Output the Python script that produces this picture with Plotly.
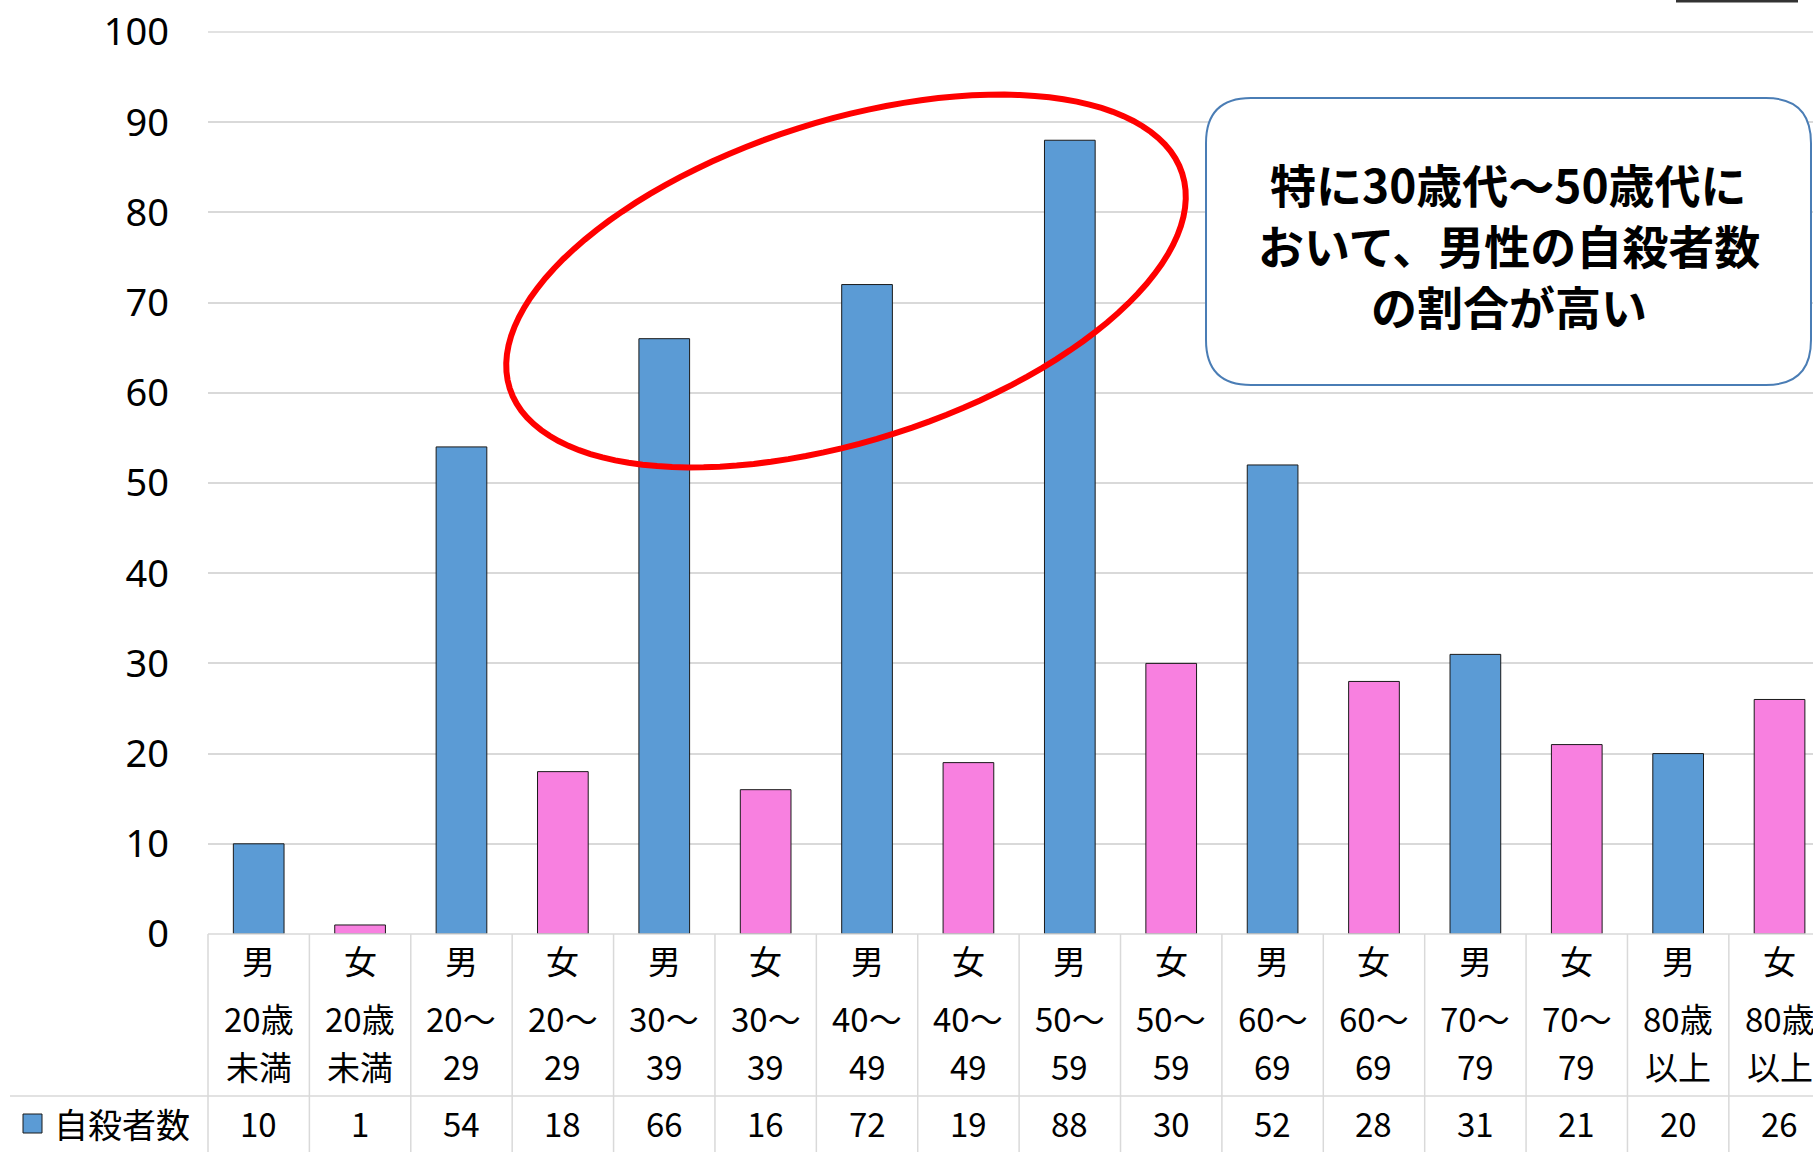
import numpy as np
import plotly.graph_objects as go

# ---- data ----
sexes = ["男", "女", "男", "女", "男", "女", "男", "女", "男", "女", "男", "女", "男", "女", "男", "女"]
age_line1 = ["20歳", "20歳", "20～", "20～", "30～", "30～", "40～", "40～", "50～", "50～",
             "60～", "60～", "70～", "70～", "80歳", "80歳"]
age_line2 = ["未満", "未満", "29", "29", "39", "39", "49", "49", "59", "59",
             "69", "69", "79", "79", "以上", "以上"]
counts = [10, 1, 54, 18, 66, 16, 72, 19, 88, 30, 52, 28, 31, 21, 20, 26]
series_name = "自殺者数"
y_ticks = [0, 10, 20, 30, 40, 50, 60, 70, 80, 90, 100]
note_lines = ["特に30歳代～50歳代に", "おいて、男性の自殺者数", "の割合が高い"]

# ---- layout constants (pixels) ----
W, H = 1813, 1152
L, R, T, B = 208, 0, 32, 218
PW, PH = W - L - R, H - T - B
X0, X1 = -0.5, 15.33

BLUE = "#5B9BD5"
PINK = "#F880E0"
GRID = "#D9D9D9"
FONT = "Noto Sans CJK JP"

def px(xp):
    return (xp - L) / PW

def py(yp):
    return (H - B - yp) / PH

def cat_px(i):
    return L + (i - X0) / (X1 - X0) * PW

colors = [BLUE if s == "男" else PINK for s in sexes]

fig = go.Figure(go.Bar(
    x=list(range(len(counts))), y=counts, name=series_name,
    marker=dict(color=colors, line=dict(color="#1a1a1a", width=1)),
    hoverinfo="y",
))

shapes = []
annotations = []

# top gridline (edge of range)
shapes.append(dict(type="line", xref="paper", yref="paper", x0=0, x1=1, y0=1, y1=1,
                   line=dict(color=GRID, width=1.5), layer="below"))

# table lines
line_style = dict(color=GRID, width=1.5)
shapes.append(dict(type="line", xref="paper", yref="paper", x0=0, x1=1,
                   y0=0, y1=0, line=line_style))
shapes.append(dict(type="line", xref="paper", yref="paper", x0=px(10), x1=1,
                   y0=py(1096), y1=py(1096), line=line_style))
for k in range(len(counts) + 1):
    xb = cat_px(k - 0.5)
    if xb > W:
        continue
    shapes.append(dict(type="line", xref="paper", yref="paper", x0=px(xb), x1=px(xb),
                       y0=0, y1=py(H), line=line_style))

# category text and values
for i in range(len(counts)):
    for txt, yy in ((sexes[i], 960), (age_line1[i], 1018), (age_line2[i], 1066)):
        annotations.append(dict(x=i, y=py(yy), xref="x", yref="paper", text=txt,
                                showarrow=False, font=dict(family=FONT, size=33, color="#000"),
                                xanchor="center", yanchor="middle"))
    annotations.append(dict(x=i, y=py(1123), xref="x", yref="paper", text=str(counts[i]),
                            showarrow=False, font=dict(family=FONT, size=33, color="#000"),
                            xanchor="center", yanchor="middle"))

# legend key in table
shapes.append(dict(type="rect", xref="paper", yref="paper", x0=px(23), x1=px(42),
                   y0=py(1133), y1=py(1114), fillcolor=BLUE, line=dict(color="#1a1a1a", width=1)))
annotations.append(dict(x=px(52), y=py(1123), xref="paper", yref="paper", text=series_name,
                        showarrow=False, font=dict(family=FONT, size=34, color="#000"),
                        xanchor="left", yanchor="middle"))

# red ellipse
cx, cy, a, b, th = 846, 281, 353, 160, np.deg2rad(17.7)
t = np.linspace(0, 2 * np.pi, 121)
ex = cx + a * np.cos(t) * np.cos(th) + b * np.sin(t) * np.sin(th)
ey = cy - a * np.cos(t) * np.sin(th) + b * np.sin(t) * np.cos(th)
path = "M " + " L ".join(f"{px(x_):.5f},{py(y_):.5f}" for x_, y_ in zip(ex, ey)) + " Z"
shapes.append(dict(type="path", xref="paper", yref="paper", path=path,
                   line=dict(color="#FF0000", width=6), layer="above"))

# rounded note box
bx0, by0, bx1, by1, r = 1206, 98, 1811, 385, 45
def P(x_, y_):
    return f"{px(x_):.5f},{py(y_):.5f}"
box = (f"M {P(bx0 + r, by0)} L {P(bx1 - r, by0)} Q {P(bx1, by0)} {P(bx1, by0 + r)} "
       f"L {P(bx1, by1 - r)} Q {P(bx1, by1)} {P(bx1 - r, by1)} "
       f"L {P(bx0 + r, by1)} Q {P(bx0, by1)} {P(bx0, by1 - r)} "
       f"L {P(bx0, by0 + r)} Q {P(bx0, by0)} {P(bx0 + r, by0)} Z")
shapes.append(dict(type="path", xref="paper", yref="paper", path=box,
                   fillcolor="white", line=dict(color="#4A7DB5", width=2), layer="above"))
for txt, yy in zip(note_lines, (183, 244, 305)):
    annotations.append(dict(x=px((bx0 + bx1) / 2), y=py(yy), xref="paper", yref="paper",
                            text=f"<b>{txt}</b>", showarrow=False, align="center",
                            height=52, valign="middle",
                            font=dict(family=FONT, size=46, color="#000"),
                            xanchor="center", yanchor="middle"))

# cropped border at top right
shapes.append(dict(type="line", xref="paper", yref="paper", x0=px(1676), x1=px(1798),
                   y0=py(1), y1=py(1), line=dict(color="#333", width=3)))

fig.update_layout(
    width=W, height=H,
    margin=dict(l=L, r=R, t=T, b=B),
    paper_bgcolor="white", plot_bgcolor="white",
    showlegend=False, bargap=0.5,
    shapes=shapes, annotations=annotations,
    xaxis=dict(range=[X0, X1], showticklabels=False, showgrid=False, zeroline=False,
               showline=False, ticks=""),
    yaxis=dict(range=[0, 100], tickvals=y_ticks, gridcolor=GRID, gridwidth=1.5,
               zeroline=False, showline=False, ticks="", ticklabelstandoff=38,
               tickfont=dict(family="Noto Sans", size=38, color="#000")),
)

fig.write_html("out.html")
